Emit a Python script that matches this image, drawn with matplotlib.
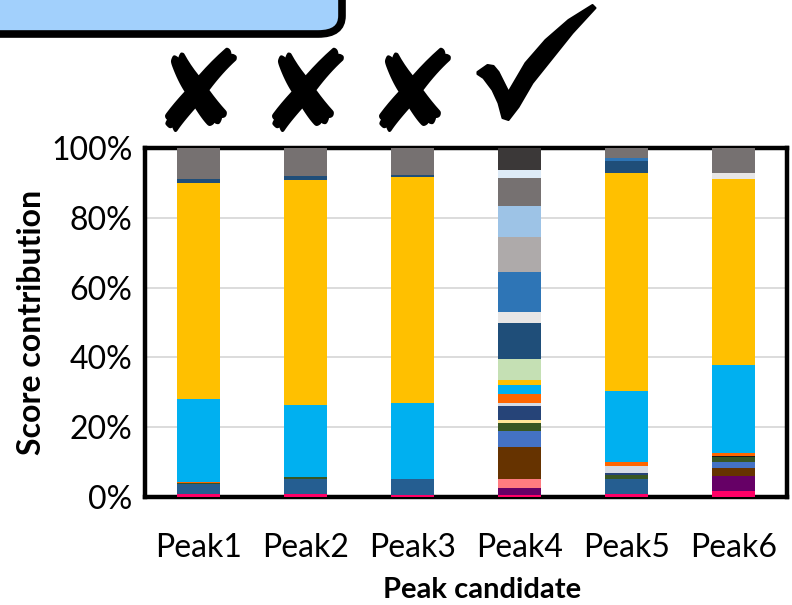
import matplotlib
matplotlib.use("Agg")
import matplotlib.pyplot as plt
from matplotlib.patches import FancyBboxPatch, Polygon
from matplotlib.transforms import blended_transform_factory
import numpy as np

# Peak candidates on the x axis
peaks = ["Peak1", "Peak2", "Peak3", "Peak4", "Peak5", "Peak6"]

# Score contribution (%) of each feature, listed bottom to top of the stack
magenta  = [0.8, 0.8, 0.7, 0.7, 0.8, 1.7]
purple   = [0.0, 0.0, 0.0, 2.0, 0.0, 4.2]
salmon   = [0.0, 0.0, 0.0, 2.6, 0.0, 0.0]
steel    = [2.8, 4.3, 4.6, 0.0, 4.4, 0.0]
brown    = [0.0, 0.0, 0.0, 9.1, 0.0, 2.5]
blue     = [0.0, 0.0, 0.0, 4.5, 0.0, 1.5]
dkgreen  = [0.3, 0.7, 0.0, 2.4, 1.0, 1.5]
cream    = [0.0, 0.0, 0.0, 0.8, 0.0, 0.0]
navy     = [0.0, 0.0, 0.0, 4.1, 0.7, 0.0]
slate    = [0.0, 0.0, 0.0, 0.7, 2.1, 0.0]
black    = [0.0, 0.0, 0.0, 0.0, 0.0, 0.4]
orange   = [0.5, 0.0, 0.0, 2.7, 0.9, 0.7]
cyan     = [23.7, 20.7, 21.5, 2.6, 20.4, 25.2]
gold     = [62.0, 64.3, 64.9, 1.4, 62.6, 53.4]
mint     = [0.0, 0.0, 0.0, 5.9, 0.0, 0.0]
dkblue   = [1.1, 1.2, 0.7, 10.5, 3.3, 0.0]
ltgrey   = [0.0, 0.0, 0.0, 3.0, 0.0, 1.8]
midblue  = [0.0, 0.0, 0.0, 11.6, 0.9, 0.0]
silver   = [0.0, 0.0, 0.0, 9.8, 0.0, 0.0]
skyblue  = [0.0, 0.0, 0.0, 9.0, 0.0, 0.0]
taupe    = [8.8, 8.0, 7.6, 8.0, 2.9, 7.1]
ice      = [0.0, 0.0, 0.0, 2.2, 0.0, 0.0]
charcoal = [0.0, 0.0, 0.0, 6.4, 0.0, 0.0]

# Verdict for each candidate shown above its bar (True = rejected)
rejected = [True, True, True, False, None, None]

yticks = [0, 20, 40, 60, 80, 100]
ytick_labels = ["0%", "20%", "40%", "60%", "80%", "100%"]

stack = [
    (magenta, "#FF0066"), (purple, "#660066"), (salmon, "#FF7C80"),
    (steel, "#255E91"), (brown, "#663300"), (blue, "#4472C4"),
    (dkgreen, "#375623"), (cream, "#FFE699"), (navy, "#264478"),
    (slate, "#D6DCE5"), (black, "#1A1A1A"), (orange, "#FF6600"),
    (cyan, "#00B0F0"), (gold, "#FFC000"), (mint, "#C5E0B4"),
    (dkblue, "#1F4E79"), (ltgrey, "#E7E6E6"), (midblue, "#2E75B6"),
    (silver, "#AEAAAA"), (skyblue, "#9DC3E6"), (taupe, "#767171"),
    (ice, "#DEEBF7"), (charcoal, "#3B3838"),
]

plt.rcParams["font.family"] = ["Lato", "DejaVu Sans"]

W, H = 792, 605
fig = plt.figure(figsize=(W / 100, H / 100), dpi=100)
ax = fig.add_axes([145 / W, 1 - 497 / H, 642 / W, 349 / H])

x = np.arange(len(peaks))
bottom = np.zeros(len(peaks))
for vals, col in stack:
    v = np.array(vals)
    ax.bar(x, v, width=0.395, bottom=bottom, color=col, linewidth=0, zorder=3)
    bottom += v

ax.set_xlim(-0.5, len(peaks) - 0.5)
ax.set_ylim(0, 100)
ax.set_yticks(yticks)
ax.set_yticklabels(ytick_labels)
ax.set_xticks(x)
ax.set_xticklabels(peaks)
ax.tick_params(axis="both", length=0, labelsize=23, colors="#000000")
ax.tick_params(axis="y", pad=9)
ax.tick_params(axis="x", pad=26)
ax.yaxis.grid(True, color="#D9D9D9", linewidth=1.3, zorder=0)
ax.set_axisbelow(True)
for s in ax.spines.values():
    s.set_linewidth(3.2)
    s.set_color("#000000")

ax.set_ylabel("Score contribution", fontsize=23, fontweight="bold", labelpad=4)
ax.set_xlabel("Peak candidate", fontsize=21, fontweight="bold", labelpad=6)
ax.xaxis.set_label_coords(0.525, -0.228)

# Verdict marks above the bars
trans = blended_transform_factory(ax.transData, fig.transFigure)
for xi, rej in zip(x, rejected):
    if rej is None:
        continue
    if rej:
        ax.text(xi, 1 - 100 / H, "✘", transform=trans, ha="center",
                va="center", fontsize=82, family="DejaVu Sans", clip_on=False)
    else:
        # hand-drawn style check mark, outline in pixels relative to bar centre
        cx = ax.transData.transform((xi, 0))[0]
        outline = [(-42, 72), (-32, 65), (-26, 66), (-21, 72), (-16, 82),
                   (-11, 92), (6, 63), (26, 40), (49, 20), (73, 5),
                   (76, 8), (53, 33), (33, 58), (13, 83), (-1, 107),
                   (-11, 120), (-17, 118), (-21, 103), (-27, 90),
                   (-36, 78), (-42, 74)]
        pts = [((cx + dx) / W, 1 - dy / H) for dx, dy in outline]
        fig.patches.append(Polygon(pts, closed=True, transform=fig.transFigure,
                                   facecolor="#000000", edgecolor="#000000",
                                   linewidth=1.5, joinstyle="round"))

# Header panel in the top-left corner
box = FancyBboxPatch((-40 / W, 1 - 34 / H), 382 / W, 60 / H,
                     boxstyle="round,pad=0,rounding_size=0.03",
                     transform=fig.transFigure, facecolor="#A2D0FC",
                     edgecolor="#000000", linewidth=5.5, clip_on=False)
fig.patches.append(box)

fig.savefig("out.png", dpi=100)
